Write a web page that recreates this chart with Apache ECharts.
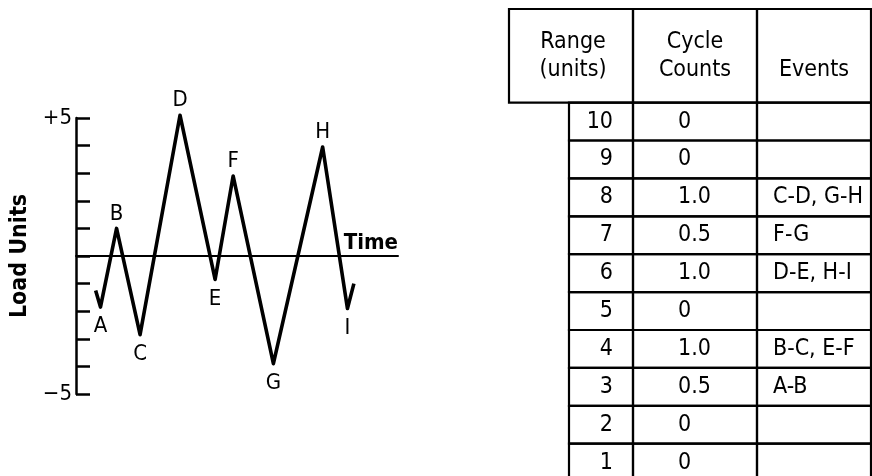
<!DOCTYPE html>
<html>
<head>
<meta charset="utf-8">
<title>Load history and cycle counts</title>
<script src="https://cdn.jsdelivr.net/npm/echarts@6/dist/echarts.min.js"></script>
<style>
  html, body { margin: 0; padding: 0; background: #fff; }
  #chart { width: 872px; height: 476px; }
</style>
</head>
<body>
<div id="chart"></div>
<script>
// load history (left)
const pointNames = ['', 'A', 'B', 'C', 'D', 'E', 'F', 'G', 'H', 'I', ''];
const pointTimes = [6.1, 7.6, 12.6, 19.9, 32.3, 43.2, 48.8, 61.3, 76.6, 84.3, 86.3];
const pointLoads = [-1.25, -1.85, 1, -2.85, 5.1, -0.85, 2.9, -3.9, 3.95, -1.9, -1];

// rainflow table (right)
const ranges = [10, 9, 8, 7, 6, 5, 4, 3, 2, 1];
const cycleCounts = ['0', '0', '1.0', '0.5', '1.0', '0', '1.0', '0.5', '0', '0'];
const events = ['', '', 'C-D, G-H', 'F-G', 'D-E, H-I', '', 'B-C, E-F', 'A-B', '', ''];
const headers = [['Range', '(units)'], ['Cycle', 'Counts'], ['', 'Events']];

const FONT = '"DejaVu Sans Condensed", "DejaVu Sans", sans-serif';
const COL = [0, 60, 124, 248, 362];   // table column edges (table axis units)
const HEAD = 2.47;                     // header height in rows
const ROW_PX = 37.9;
const TABLE_TOP = 9;

const chart = echarts.init(document.getElementById('chart'));

// peaks get the letter above, valleys below
const lineData = pointTimes.map((t, i) => {
  const prev = pointLoads[i - 1], next = pointLoads[i + 1];
  const v = pointLoads[i];
  const peak = (prev === undefined || v > prev) && (next === undefined || v > next);
  return {
    value: [t, v],
    label: {
      show: pointNames[i] !== '',
      formatter: pointNames[i],
      position: peak ? 'top' : 'bottom',
      distance: peak ? 3 : 8
    }
  };
});

function cellRect(api, x0, x1, y0, y1) {
  const a = api.coord([x0, y0]);
  const b = api.coord([x1, y1]);
  return {
    type: 'rect',
    shape: { x: a[0], y: a[1], width: b[0] - a[0], height: b[1] - a[1] },
    style: { fill: 'none', stroke: '#000', lineWidth: 2.2 }
  };
}

function cellText(api, text, x, y, align) {
  const p = api.coord([x, y]);
  return {
    type: 'text',
    style: {
      text: text, x: p[0], y: p[1], align: align, verticalAlign: 'middle',
      fontSize: 23, fontFamily: FONT, fill: '#000'
    }
  };
}

const tableRows = (476 - TABLE_TOP) / ROW_PX;   // rows visible down to the page edge

const option = {
  animation: false,
  backgroundColor: '#fff',
  grid: [
    { left: 76, top: 118, width: 322, height: 276 },
    { left: 509, top: TABLE_TOP, width: 362, bottom: 0 }
  ],
  xAxis: [
    {
      type: 'value', min: 0, max: 100,
      axisLine: { onZero: true, lineStyle: { color: '#000', width: 2 } },
      axisTick: { show: false }, axisLabel: { show: false }, splitLine: { show: false },
      name: 'Time', nameLocation: 'end', nameGap: 0,
      nameTextStyle: {
        color: '#000', fontFamily: FONT, fontWeight: 'bold', fontSize: 22,
        align: 'right', verticalAlign: 'bottom', padding: [0, 0, 2, 0]
      }
    },
    { gridIndex: 1, type: 'value', min: 0, max: COL[COL.length - 1], show: false }
  ],
  yAxis: [
    {
      type: 'value', min: -5, max: 5, interval: 1,
      axisLine: { show: true, onZero: false, lineStyle: { color: '#000', width: 2.5 } },
      axisTick: { show: true, inside: true, length: 14, lineStyle: { color: '#000', width: 2.5 } },
      splitLine: { show: false },
      axisLabel: {
        margin: 4, color: '#000', fontSize: 22, fontFamily: FONT,
        formatter: v => (v === 5 ? '+5' : v === -5 ? '\u22125' : '')
      },
      name: 'Load Units', nameLocation: 'middle', nameGap: 44, nameRotate: 90,
      nameTextStyle: { color: '#000', fontFamily: FONT, fontWeight: 'bold', fontSize: 23 }
    },
    { gridIndex: 1, type: 'value', min: 0, max: tableRows, inverse: true, show: false }
  ],
  series: [
    {
      type: 'line',
      data: lineData,
      clip: false,
      symbol: 'circle', symbolSize: 1,
      itemStyle: { color: 'rgba(0,0,0,0)', borderWidth: 0 },
      lineStyle: { color: '#000', width: 3.6, join: 'round' },
      label: { color: '#000', fontSize: 22, fontFamily: FONT },
      emphasis: { disabled: true }
    },
    {
      type: 'custom',
      xAxisIndex: 1, yAxisIndex: 1,
      clip: false,
      data: [[0]],
      renderItem: (params, api) => {
        const children = [];
        const lineY = [0.881, 1.612];
        headers.forEach((lines, k) => {
          children.push(cellRect(api, k === 0 ? COL[0] : COL[k + 1], COL[k + 2], 0, HEAD));
          const cx = k === 0 ? (COL[0] + COL[2]) / 2 + 2 : (COL[k + 1] + COL[k + 2]) / 2;
          lines.forEach((t, j) => {
            if (t) children.push(cellText(api, t, cx, lineY[j], 'center'));
          });
        });
        return { type: 'group', children: children };
      }
    },
    {
      type: 'custom',
      xAxisIndex: 1, yAxisIndex: 1,
      clip: false,
      data: ranges.map((r, i) => [i]),
      renderItem: (params, api) => {
        const i = api.value(0);
        const y0 = HEAD + i, y1 = y0 + 1, ym = y0 + 0.5;
        return {
          type: 'group',
          children: [
            cellRect(api, COL[1], COL[2], y0, y1),
            cellRect(api, COL[2], COL[3], y0, y1),
            cellRect(api, COL[3], COL[4], y0, y1),
            cellText(api, String(ranges[i]), COL[2] - 20, ym, 'right'),
            cellText(api, cycleCounts[i], COL[2] + 45, ym, 'left'),
            cellText(api, events[i], COL[3] + 16, ym, 'left')
          ]
        };
      }
    }
  ]
};

chart.setOption(option);
</script>
</body>
</html>
